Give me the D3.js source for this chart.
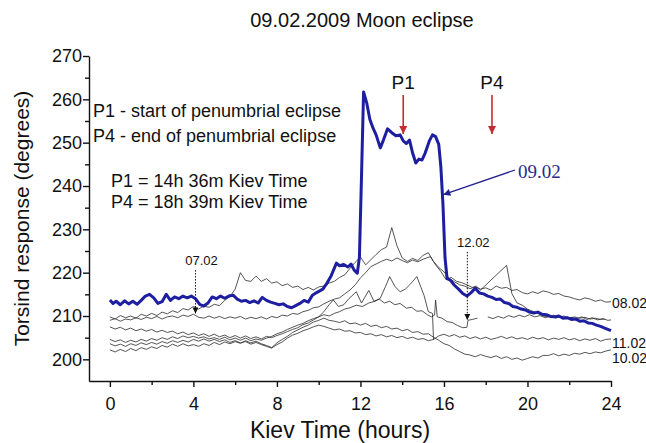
<!DOCTYPE html>
<html>
<head>
<meta charset="utf-8">
<script src="https://cdn.jsdelivr.net/npm/d3@7/dist/d3.min.js"></script>
<style>
  body { margin: 0; background: #fff; }
  svg text { font-family: "Liberation Sans", Arial, sans-serif; fill: #111; }
</style>
</head>
<body>
<svg id="chart" width="646" height="443"></svg>
<script>

// axis settings
var hourDomain = [-1, 24];
var valueDomain = [195, 270];
var hourTicks = [0, 4, 8, 12, 16, 20, 24];
var hourMinorTicks = [2, 6, 10, 14, 18, 22];
var valueTicks = [200, 210, 220, 230, 240, 250, 260, 270];
var valueMinorTicks = [205, 215, 225, 235, 245, 255, 265];

// eclipse day, [hour, degrees]
var day0902 = [[0,213.7],[0.15,212.9],[0.3,213.4],[0.5,212.6],[0.7,213.5],[0.9,212.8],[1.1,213.4],[1.3,212.7],[1.5,213.6],[1.7,214.6],[1.9,215.0],[2.1,214.2],[2.3,212.9],[2.5,213.3],[2.7,215.0],[2.9,213.6],[3.1,214.4],[3.3,214.0],[3.5,214.6],[3.7,214.2],[3.9,214.6],[4.1,214.0],[4.3,212.7],[4.5,212.3],[4.7,213.0],[4.9,214.4],[5.1,214.0],[5.3,214.6],[5.5,214.1],[5.7,214.6],[5.9,214.8],[6.1,213.9],[6.3,213.4],[6.5,213.6],[6.7,213.1],[6.9,213.5],[7.1,213.0],[7.3,214.3],[7.5,213.6],[7.7,213.2],[7.9,212.9],[8.1,212.6],[8.3,212.8],[8.5,212.2],[8.7,211.9],[8.9,212.4],[9.1,212.9],[9.3,213.6],[9.5,213.2],[9.7,214.8],[9.9,215.4],[10.2,216.2],[10.4,217.6],[10.6,219.3],[10.85,222.2],[11.0,221.6],[11.2,221.9],[11.4,221.3],[11.55,222.0],[11.7,220.6],[11.85,219.9],[11.95,223.5],[12.05,242.0],[12.15,261.7],[12.3,259.2],[12.45,255.4],[12.6,253.4],[12.75,251.8],[12.95,248.8],[13.1,250.6],[13.3,253.2],[13.5,252.3],[13.7,251.6],[13.9,251.8],[14.05,250.4],[14.2,249.8],[14.35,250.6],[14.5,247.6],[14.65,245.3],[14.8,246.2],[14.95,246.0],[15.1,247.6],[15.3,250.4],[15.45,251.8],[15.6,251.4],[15.75,249.6],[15.85,244.5],[15.95,236.0],[16.05,223.5],[16.15,218.6],[16.3,218.3],[16.5,217.1],[16.7,216.2],[16.9,215.2],[17.1,214.6],[17.3,215.4],[17.5,216.4],[17.7,215.3],[17.9,215.1],[18.1,214.6],[18.3,214.3],[18.5,213.8],[18.7,213.9],[18.9,213.1],[19.1,212.9],[19.3,212.2],[19.5,212.0],[19.7,211.6],[19.9,211.4],[20.1,210.9],[20.3,210.7],[20.5,210.9],[20.7,210.4],[20.9,210.3],[21.1,209.9],[21.3,209.8],[21.5,210.0],[21.7,209.5],[21.9,209.6],[22.1,209.2],[22.3,209.3],[22.5,208.8],[22.7,208.9],[22.9,208.4],[23.1,208.3],[23.3,207.9],[23.5,207.6],[23.7,207.2],[23.85,206.9],[24,206.6]];

var day0702 = [[0,209.0],[0.25,209.4],[0.5,208.8],[0.75,209.3],[1,209.1],[1.25,209.6],[1.5,209.2],[1.75,209.7],[2,209.4],[2.25,209.9],[2.5,209.3],[2.75,209.8],[3,210.0],[3.25,209.6],[3.5,210.2],[3.75,209.9],[4,210.4],[4.25,209.7],[4.5,209.5],[4.75,210.0],[5,209.5],[5.25,209.9],[5.5,209.4],[5.75,209.8],[6,209.5],[6.25,209.9],[6.5,209.3],[6.75,209.7],[7,209.4],[7.25,209.8],[7.5,209.3],[7.75,209.9],[8,209.6],[8.25,210.2],[8.5,210.0],[8.75,210.6],[9,210.4],[9.25,211.0],[9.5,211.3],[9.75,211.9],[10,212.1],[10.25,212.8],[10.5,213.4],[10.75,213.9],[11,214.2],[11.25,215.1],[11.5,216.0],[11.75,217.2],[12,218.8],[12.25,220.0],[12.5,221.4],[12.75,222.0],[13,222.6],[13.25,223.1],[13.5,222.7],[13.75,223.4],[14,222.8],[14.25,222.3],[14.5,222.9],[14.75,222.5],[15,223.1],[15.35,223.7],[15.6,221.8],[15.85,220.3],[16.1,218.4],[16.35,218.9],[16.6,218.0],[16.85,217.7],[17.1,217.2],[17.35,216.6],[17.55,216.9],[17.75,216.0],[19.0,221.7],[19.25,215.2],[19.5,213.0],[19.75,212.5],[20,211.6],[20.25,211.1],[20.5,210.6],[20.75,210.0],[21,209.8],[21.25,210.2],[21.5,209.7],[21.75,210.0],[22,209.5],[22.25,209.8],[22.5,209.5],[22.75,209.7],[23,209.3],[23.25,209.5],[23.5,209.2],[23.7,209.3]];

var day0802 = [[0,209.8],[0.25,209.3],[0.5,210.1],[0.75,209.6],[1,210.0],[1.25,209.5],[1.5,210.4],[1.75,210.0],[2,210.6],[2.25,210.1],[2.5,210.9],[2.75,210.5],[3,211.2],[3.25,210.8],[3.5,211.7],[3.75,211.4],[4,212.2],[4.25,211.6],[4.5,212.3],[4.75,212.0],[5,212.7],[5.25,212.4],[5.5,213.6],[5.75,214.5],[6,216.2],[6.25,220.0],[6.5,218.2],[6.75,218.0],[7,219.2],[7.25,218.0],[7.5,218.6],[7.75,217.6],[8,217.9],[8.25,217.0],[8.5,217.4],[8.75,216.6],[9,216.9],[9.25,216.1],[9.5,216.6],[9.75,216.0],[10,216.7],[10.25,216.9],[10.5,217.6],[10.75,218.0],[11,218.9],[11.25,219.5],[11.5,221.0],[11.75,222.4],[12,223.6],[12.25,221.8],[12.5,223.0],[12.75,224.2],[13,225.3],[13.25,225.9],[13.5,230.4],[13.75,226.2],[14,223.4],[14.25,222.6],[14.5,223.3],[14.75,222.8],[15,224.0],[15.25,224.6],[15.5,222.6],[15.75,221.2],[16,220.2],[16.25,218.7],[16.5,217.9],[16.75,217.2],[17,216.9],[17.25,216.3],[17.5,216.7],[17.75,216.2],[18,216.5],[18.25,216.0],[18.5,216.9],[18.75,216.4],[19,216.6],[19.25,215.9],[19.5,216.1],[19.75,215.4],[20,215.1],[20.25,215.6],[20.5,215.2],[20.75,215.8],[21,215.5],[21.25,215.0],[21.5,215.2],[21.75,214.6],[22,214.4],[22.25,214.0],[22.5,213.7],[22.75,214.2],[23,213.9],[23.25,213.4],[23.5,213.7],[23.75,213.2],[24,213.3]];

// record that ends after the jump near 15.5 h (no date printed)
var dayUnlabelled = [[0,204.6],[0.25,204.1],[0.5,204.5],[0.75,203.9],[1,204.4],[1.25,204.0],[1.5,204.6],[1.75,204.2],[2,204.8],[2.25,204.4],[2.5,205.0],[2.75,204.6],[3,205.2],[3.25,204.8],[3.5,205.4],[3.75,205.0],[4,205.3],[4.25,204.9],[4.5,205.2],[4.75,204.7],[5,205.0],[5.25,204.6],[5.5,205.1],[5.75,204.5],[6,204.9],[6.25,204.4],[6.5,204.9],[6.75,204.3],[7,204.7],[7.25,204.4],[7.5,204.9],[7.75,205.3],[8,205.9],[8.25,206.3],[8.5,206.9],[8.75,207.4],[9,207.9],[9.25,208.3],[9.5,208.9],[9.75,209.4],[10,209.8],[10.25,210.3],[10.5,210.0],[10.75,210.6],[11,211.0],[11.25,211.6],[11.5,211.9],[11.8,212.5],[12.1,212.2],[12.4,213.0],[12.7,213.4],[12.95,214.1],[13.2,216.8],[13.4,219.1],[13.65,216.8],[13.9,215.6],[14.15,216.2],[14.4,217.4],[14.7,219.1],[14.9,216.6],[15.05,214.7],[15.25,211.0],[15.45,210.6],[15.5,204.5]];

var day1002 = [[0,202.2],[0.25,201.7],[0.5,202.3],[0.75,201.8],[1,202.5],[1.25,202.0],[1.5,202.7],[1.75,202.3],[2,202.9],[2.25,202.5],[2.5,203.2],[2.75,202.8],[3,203.5],[3.25,203.0],[3.5,203.6],[3.75,203.1],[4,203.4],[4.25,203.0],[4.5,203.6],[4.75,203.2],[5,203.9],[5.25,203.4],[5.5,204.0],[5.75,203.6],[6,204.1],[6.25,203.7],[6.5,204.3],[6.75,203.8],[7,204.2],[7.25,203.6],[7.5,203.2],[7.75,202.7],[8,203.8],[8.25,204.6],[8.5,205.3],[8.75,206.2],[9,206.8],[9.25,207.4],[9.5,207.9],[9.75,208.6],[10,209.0],[10.25,209.5],[10.5,209.0],[10.75,208.8],[11,208.5],[11.25,208.9],[11.5,208.2],[11.75,208.4],[12,207.9],[12.25,208.3],[12.5,207.6],[12.75,207.9],[13,207.3],[13.25,207.6],[13.5,207.0],[13.75,207.2],[14,206.6],[14.25,206.9],[14.5,206.2],[14.75,206.4],[15,205.8],[15.25,205.9],[15.5,205.1],[15.75,204.4],[16,203.6],[16.25,203.2],[16.5,202.4],[16.75,201.8],[17,201.2],[17.25,201.0],[17.5,200.6],[17.75,201.1],[18,200.7],[18.25,200.4],[18.5,200.8],[18.75,200.2],[19,200.6],[19.25,200.0],[19.5,200.3],[19.75,199.8],[20,200.2],[20.25,200.6],[20.5,200.3],[20.75,200.9],[21,200.9],[21.25,201.3],[21.5,200.8],[21.75,201.2],[22,200.9],[22.25,201.4],[22.5,201.2],[22.75,201.6],[23,201.3],[23.25,201.7],[23.5,201.5],[23.75,201.9],[24,202.2]];

var day1102 = [[0,203.6],[0.25,203.1],[0.5,203.5],[0.75,203.0],[1,203.6],[1.25,203.2],[1.5,203.8],[1.75,203.4],[2,203.9],[2.25,203.5],[2.5,204.1],[2.75,203.7],[3,204.3],[3.25,203.9],[3.5,204.4],[3.75,204.0],[4,204.6],[4.25,204.2],[4.5,204.7],[4.75,204.2],[5,204.6],[5.25,204.1],[5.5,204.5],[5.75,203.9],[6,204.3],[6.25,203.8],[6.5,204.1],[6.75,203.5],[7,203.9],[7.25,203.4],[7.5,203.0],[7.75,202.6],[8,203.4],[8.25,204.0],[8.5,204.9],[8.75,205.6],[9,206.0],[9.25,206.6],[9.5,207.0],[9.75,207.5],[10,207.9],[10.25,207.6],[10.5,207.2],[10.75,206.8],[11,207.0],[11.25,206.5],[11.5,206.6],[11.75,206.1],[12,206.2],[12.25,205.7],[12.5,205.9],[12.75,205.4],[13,205.7],[13.25,205.2],[13.5,205.5],[13.75,205.0],[14,205.3],[14.25,204.8],[14.5,205.1],[14.75,204.6],[15,204.8],[15.25,204.3],[15.5,204.6],[15.75,205.4],[16,205.8],[16.25,205.3],[16.5,205.7],[16.75,205.1],[17,205.4],[17.25,204.8],[17.5,205.2],[17.75,204.7],[18,205.1],[18.25,204.6],[18.5,204.9],[18.75,205.3],[19,204.8],[19.25,205.2],[19.5,204.7],[19.75,205.0],[20,204.6],[20.25,205.1],[20.5,204.7],[20.75,205.0],[21,204.5],[21.25,204.9],[21.5,204.6],[21.75,205.0],[22,204.5],[22.25,204.8],[22.5,204.3],[22.75,204.7],[23,204.4],[23.25,204.8],[23.5,204.2],[23.75,204.6],[24,204.7]];

// null = no readings (gap after the jump at 17.1 h)
var day1202 = [[0,207.5],[0.25,207.0],[0.5,207.4],[0.75,206.8],[1,207.2],[1.25,206.6],[1.5,207.0],[1.75,206.5],[2,206.9],[2.25,206.3],[2.5,206.7],[2.75,206.2],[3,206.5],[3.25,205.9],[3.5,206.3],[3.75,205.7],[4,206.1],[4.25,205.5],[4.5,205.9],[4.75,205.3],[5,205.8],[5.25,205.2],[5.5,205.6],[5.75,205.0],[6,205.5],[6.25,204.9],[6.5,205.4],[6.75,204.8],[7,205.2],[7.25,204.7],[7.5,205.3],[7.75,205.0],[8,205.5],[8.25,205.9],[8.5,206.4],[8.75,206.9],[9,207.3],[9.25,208.0],[9.5,208.4],[9.75,209.1],[10,209.8],[10.25,211.0],[10.5,212.6],[10.7,213.7],[10.95,212.2],[11.2,212.6],[11.45,214.0],[11.8,215.6],[12.05,213.0],[12.4,215.9],[12.65,213.4],[12.9,213.9],[13.15,213.0],[13.4,213.4],[13.65,212.6],[13.9,212.9],[14.2,211.8],[14.45,212.0],[14.7,211.1],[14.95,211.2],[15.2,210.3],[15.4,209.8],[15.55,210.2],[15.6,213.7],[15.68,209.8],[15.9,209.5],[16.15,208.7],[16.4,208.5],[16.65,207.8],[16.9,207.3],[17.1,207.4],[17.15,209.0],[17.35,209.2],[17.6,209.5],[17.8,null],[18.1,209.8],[18.35,209.4],[18.6,209.9],[18.85,209.5],[19.1,210.1],[19.35,209.7],[19.6,210.2],[19.85,209.8],[20.1,210.3],[20.35,209.8],[20.6,210.1],[20.85,209.6],[21.1,210.0],[21.35,209.5],[21.6,209.9],[21.85,209.4],[22.1,209.7],[22.35,209.3],[22.6,209.8],[22.85,209.2],[23.1,209.6],[23.35,209.1],[23.6,209.4],[23.85,209.0],[24,209.1]];

var thinDays = [day0702, day0802, dayUnlabelled, day1002, day1102, day1202];
var endLabels = ["08.02", "11.02", "10.02"];
var endLabelRecords = [day0802, day1102, day1002];

// eclipse contacts as placed on the figure
var contactNames = ["P1", "P4"];
var contactHours = [14.05, 18.3];

var noteLines = ["P1 - start of penumbrial eclipse", "P4 - end of penumbrial eclipse"];
var timeLines = ["P1 = 14h 36m Kiev Time", "P4 = 18h 39m Kiev Time"];

var svg = d3.select("#chart");
svg.append("rect").attr("width", 646).attr("height", 443).attr("fill", "#fff");

var x = d3.scaleLinear().domain(hourDomain).range([89, 611]);
var y = d3.scaleLinear().domain(valueDomain).range([381, 56]);

var defs = svg.append("defs");
function marker(id, color, w, h) {
  defs.append("marker")
    .attr("id", id)
    .attr("viewBox", "0 0 10 10")
    .attr("refX", 10).attr("refY", 5)
    .attr("markerUnits", "userSpaceOnUse")
    .attr("markerWidth", w).attr("markerHeight", h)
    .attr("orient", "auto")
    .append("path")
    .attr("d", "M0,0 L10,5 L0,10 Z")
    .attr("fill", color);
}
marker("headRed", "#c62b33", 9, 8);
marker("headBlue", "#22228e", 10, 7);
marker("headBlack", "#111", 8, 6);

var line = d3.line()
  .defined(function(d) { return d[1] !== null; })
  .x(function(d) { return x(d[0]); })
  .y(function(d) { return y(d[1]); });

// thin records of the other days
svg.append("g")
  .selectAll("path")
  .data(thinDays)
  .enter()
  .append("path")
  .attr("d", line)
  .attr("fill", "none")
  .attr("stroke", "#2a2a2a")
  .attr("stroke-width", 0.8)
  .attr("stroke-linejoin", "round");

// eclipse day
svg.append("path")
  .datum(day0902)
  .attr("d", line)
  .attr("fill", "none")
  .attr("stroke", "#1e1ea0")
  .attr("stroke-width", 3)
  .attr("stroke-linejoin", "round");

// axes
svg.append("g")
  .attr("transform", "translate(0," + y(valueDomain[0]) + ")")
  .call(d3.axisBottom(x).tickValues(hourTicks).tickSize(6).tickSizeOuter(0).tickPadding(10));
svg.append("g")
  .attr("transform", "translate(0," + y(valueDomain[0]) + ")")
  .call(d3.axisBottom(x).tickValues(hourMinorTicks).tickSize(4).tickFormat(""))
  .select(".domain").remove();

svg.append("g")
  .attr("transform", "translate(" + x(hourDomain[0]) + ",0)")
  .call(d3.axisLeft(y).tickValues(valueTicks).tickSize(6).tickSizeOuter(0).tickPadding(1));
svg.append("g")
  .attr("transform", "translate(" + x(hourDomain[0]) + ",0)")
  .call(d3.axisLeft(y).tickValues(valueMinorTicks).tickSize(4).tickFormat(""))
  .select(".domain").remove();

svg.selectAll(".domain, .tick line").attr("stroke", "#111").attr("stroke-width", 1.4);
svg.selectAll(".tick text")
  .attr("font-size", 18)
  .attr("font-family", null)
  .attr("fill", "#111");

// titles
svg.append("text")
  .attr("x", 362).attr("y", 27)
  .attr("text-anchor", "middle")
  .attr("font-size", 20)
  .text("09.02.2009 Moon eclipse");

svg.append("text")
  .attr("x", 340).attr("y", 438)
  .attr("text-anchor", "middle")
  .attr("font-size", 23)
  .text("Kiev Time (hours)");

svg.append("text")
  .attr("transform", "translate(29," + (y(232.5)) + ") rotate(-90)")
  .attr("text-anchor", "middle")
  .attr("font-size", 21)
  .text("Torsind response (degrees)");

// explanation block
svg.selectAll("text.note")
  .data(noteLines)
  .enter()
  .append("text")
  .attr("class", "note")
  .attr("x", 93)
  .attr("y", function(d, i) { return 117 + i * 25; })
  .attr("font-size", 18)
  .text(function(d) { return d; });

svg.selectAll("text.time")
  .data(timeLines)
  .enter()
  .append("text")
  .attr("class", "time")
  .attr("x", 111)
  .attr("y", function(d, i) { return 187 + i * 20.5; })
  .attr("font-size", 18)
  .text(function(d) { return d; });

// P1 / P4 arrows
contactHours.forEach(function(h, i) {
  svg.append("line")
    .attr("x1", x(h)).attr("x2", x(h))
    .attr("y1", 95).attr("y2", 134)
    .attr("stroke", "#c62b33")
    .attr("stroke-width", 1.6)
    .attr("marker-end", "url(#headRed)");
  svg.append("text")
    .attr("x", x(h)).attr("y", 89)
    .attr("text-anchor", "middle")
    .attr("font-size", 19)
    .text(contactNames[i]);
});

// 09.02 pointer
svg.append("line")
  .attr("x1", 515).attr("y1", 170)
  .attr("x2", x(15.97)).attr("y2", y(238))
  .attr("stroke", "#22228e")
  .attr("stroke-width", 1.3)
  .attr("marker-end", "url(#headBlue)");
svg.append("text")
  .attr("x", 518).attr("y", 178)
  .attr("font-size", 19)
  .style("font-family", "'Liberation Serif', 'Times New Roman', serif")
  .style("fill", "#2a2a8c")
  .text("09.02");

// dotted pointers for 07.02 and 12.02
var pointerDays = ["07.02", "12.02"];
var pointerHours = [4.1, 17.12];
var pointerValues = [210.6, 209.1];
var pointerTops = [220.6, 224.8];
pointerDays.forEach(function(name, i) {
  var px = x(pointerHours[i]);
  svg.append("line")
    .attr("x1", px).attr("x2", px)
    .attr("y1", y(pointerTops[i])).attr("y2", y(pointerValues[i]))
    .attr("stroke", "#111")
    .attr("stroke-width", 1)
    .attr("stroke-dasharray", "1.5,1.5")
    .attr("marker-end", "url(#headBlack)");
  svg.append("text")
    .attr("x", px + 6).attr("y", y(pointerTops[i]) - 5)
    .attr("text-anchor", "middle")
    .attr("font-size", 13)
    .text(name);
});

// labels at the right end
var endLabelShift = [2, 5, 9];
endLabels.forEach(function(name, i) {
  var rec = endLabelRecords[i];
  var last = rec[rec.length - 1];
  svg.append("text")
    .attr("x", x(last[0]) + 1)
    .attr("y", y(last[1]) + endLabelShift[i] + 4)
    .attr("font-size", 14)
    .text(name);
});

</script>
</body>
</html>
